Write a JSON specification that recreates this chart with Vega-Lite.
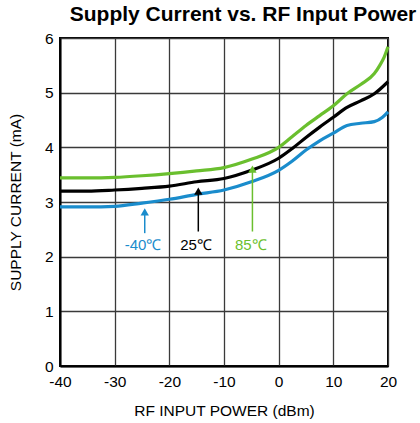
{
  "$schema": "https://vega.github.io/schema/vega-lite/v6.json",
  "width": 328,
  "height": 328,
  "autosize": {"type": "none"},
  "padding": {"left": 60, "top": 38, "right": 32, "bottom": 57},
  "background": "white",
  "config": {
    "font": "Liberation Sans",
    "view": {"stroke": "black", "strokeWidth": 2}
  },
  "title": {
    "text": "Supply Current vs. RF Input Power",
    "fontSize": 21,
    "fontWeight": "bold",
    "color": "black",
    "anchor": "middle",
    "dx": 19,
    "offset": 6
  },
  "datasets": {
    "curves": [
      {"p": -40, "i": 2.91, "t": "-40"}, {"p": -35, "i": 2.91, "t": "-40"}, {"p": -30, "i": 2.92, "t": "-40"},
      {"p": -25, "i": 2.98, "t": "-40"}, {"p": -20, "i": 3.05, "t": "-40"}, {"p": -15, "i": 3.14, "t": "-40"},
      {"p": -10, "i": 3.22, "t": "-40"}, {"p": -5, "i": 3.37, "t": "-40"}, {"p": 0, "i": 3.58, "t": "-40"},
      {"p": 2.5, "i": 3.75, "t": "-40"}, {"p": 5, "i": 3.95, "t": "-40"}, {"p": 7.5, "i": 4.12, "t": "-40"},
      {"p": 10, "i": 4.26, "t": "-40"}, {"p": 12.5, "i": 4.4, "t": "-40"}, {"p": 15, "i": 4.44, "t": "-40"},
      {"p": 17.5, "i": 4.47, "t": "-40"}, {"p": 19, "i": 4.55, "t": "-40"}, {"p": 20, "i": 4.65, "t": "-40"},
      {"p": -40, "i": 3.2, "t": "25"}, {"p": -35, "i": 3.2, "t": "25"}, {"p": -30, "i": 3.22, "t": "25"},
      {"p": -25, "i": 3.25, "t": "25"}, {"p": -20, "i": 3.29, "t": "25"}, {"p": -15, "i": 3.37, "t": "25"},
      {"p": -10, "i": 3.43, "t": "25"}, {"p": -5, "i": 3.58, "t": "25"}, {"p": 0, "i": 3.8, "t": "25"},
      {"p": 2.5, "i": 3.98, "t": "25"}, {"p": 5, "i": 4.18, "t": "25"}, {"p": 7.5, "i": 4.37, "t": "25"},
      {"p": 10, "i": 4.55, "t": "25"}, {"p": 12.5, "i": 4.73, "t": "25"}, {"p": 15, "i": 4.85, "t": "25"},
      {"p": 17.5, "i": 4.98, "t": "25"}, {"p": 20, "i": 5.2, "t": "25"},
      {"p": -40, "i": 3.44, "t": "85"}, {"p": -35, "i": 3.44, "t": "85"}, {"p": -30, "i": 3.45, "t": "85"},
      {"p": -25, "i": 3.48, "t": "85"}, {"p": -20, "i": 3.52, "t": "85"}, {"p": -15, "i": 3.57, "t": "85"},
      {"p": -10, "i": 3.63, "t": "85"}, {"p": -5, "i": 3.78, "t": "85"}, {"p": 0, "i": 4.0, "t": "85"},
      {"p": 2.5, "i": 4.2, "t": "85"}, {"p": 5, "i": 4.4, "t": "85"}, {"p": 7.5, "i": 4.58, "t": "85"},
      {"p": 10, "i": 4.76, "t": "85"}, {"p": 12.5, "i": 4.98, "t": "85"}, {"p": 15, "i": 5.15, "t": "85"},
      {"p": 17.5, "i": 5.35, "t": "85"}, {"p": 18.5, "i": 5.5, "t": "85"}, {"p": 19.3, "i": 5.65, "t": "85"},
      {"p": 20, "i": 5.84, "t": "85"}
    ],
    "arrows": [
      {"p": -24.5, "y0": 2.43, "y1": 2.82, "t": "-40", "lx": -24.8, "ly": 2.21, "label": "-40℃"},
      {"p": -14.7, "y0": 2.46, "y1": 3.2, "t": "25", "lx": -15.1, "ly": 2.21, "label": "25℃"},
      {"p": -4.8, "y0": 2.46, "y1": 3.6, "t": "85", "lx": -5.1, "ly": 2.21, "label": "85℃"}
    ]
  },
  "layer": [
    {
      "data": {"name": "curves"},
      "mark": {"type": "line", "strokeWidth": 3.2, "interpolate": "monotone"},
      "encoding": {
        "x": {
          "field": "p", "type": "quantitative",
          "scale": {"domain": [-40, 20], "nice": false, "zero": false},
          "axis": {
            "title": "RF INPUT POWER (dBm)",
            "values": [-40, -30, -20, -10, 0, 10, 20],
            "labelExpr": "'' + datum.value",
            "ticks": false, "labelPadding": 8,
            "labelFontSize": 15.5, "labelColor": "black", "labelFlush": false,
            "titleFontSize": 15.5, "titleFontWeight": "normal", "titleColor": "black", "titlePadding": 14,
            "domainColor": "black", "domainWidth": 2,
            "grid": true, "gridColor": "#3a3a3a", "gridWidth": 1.3
          }
        },
        "y": {
          "field": "i", "type": "quantitative",
          "scale": {"domain": [0, 6], "nice": false},
          "axis": {
            "title": "SUPPLY CURRENT (mA)",
            "values": [0, 1, 2, 3, 4, 5, 6],
            "labelExpr": "'' + datum.value",
            "ticks": false, "labelPadding": 7,
            "labelFontSize": 15.5, "labelColor": "black", "labelFlush": false,
            "titleFontSize": 15.5, "titleFontWeight": "normal", "titleColor": "black", "titlePadding": 21,
            "domainColor": "black", "domainWidth": 2,
            "grid": true, "gridColor": "#3a3a3a", "gridWidth": 1.3
          }
        },
        "color": {
          "field": "t", "type": "nominal",
          "scale": {"domain": ["-40", "25", "85"], "range": ["#1a8ccc", "#000000", "#6abf2e"]},
          "legend": null
        }
      }
    },
    {
      "data": {"name": "arrows"},
      "mark": {"type": "rule", "strokeWidth": 1.5},
      "encoding": {
        "x": {"field": "p", "type": "quantitative"},
        "y": {"field": "y0", "type": "quantitative"},
        "y2": {"field": "y1"},
        "color": {"field": "t", "type": "nominal", "legend": null}
      }
    },
    {
      "data": {"name": "arrows"},
      "mark": {"type": "point", "shape": "triangle-up", "filled": true, "size": 70, "opacity": 1},
      "encoding": {
        "x": {"field": "p", "type": "quantitative"},
        "y": {"field": "y1", "type": "quantitative"},
        "color": {"field": "t", "type": "nominal", "legend": null}
      }
    },
    {
      "data": {"name": "arrows"},
      "mark": {"type": "text", "fontSize": 15, "baseline": "middle", "align": "center"},
      "encoding": {
        "x": {"field": "lx", "type": "quantitative"},
        "y": {"field": "ly", "type": "quantitative"},
        "text": {"field": "label"},
        "color": {"field": "t", "type": "nominal", "legend": null}
      }
    }
  ]
}
